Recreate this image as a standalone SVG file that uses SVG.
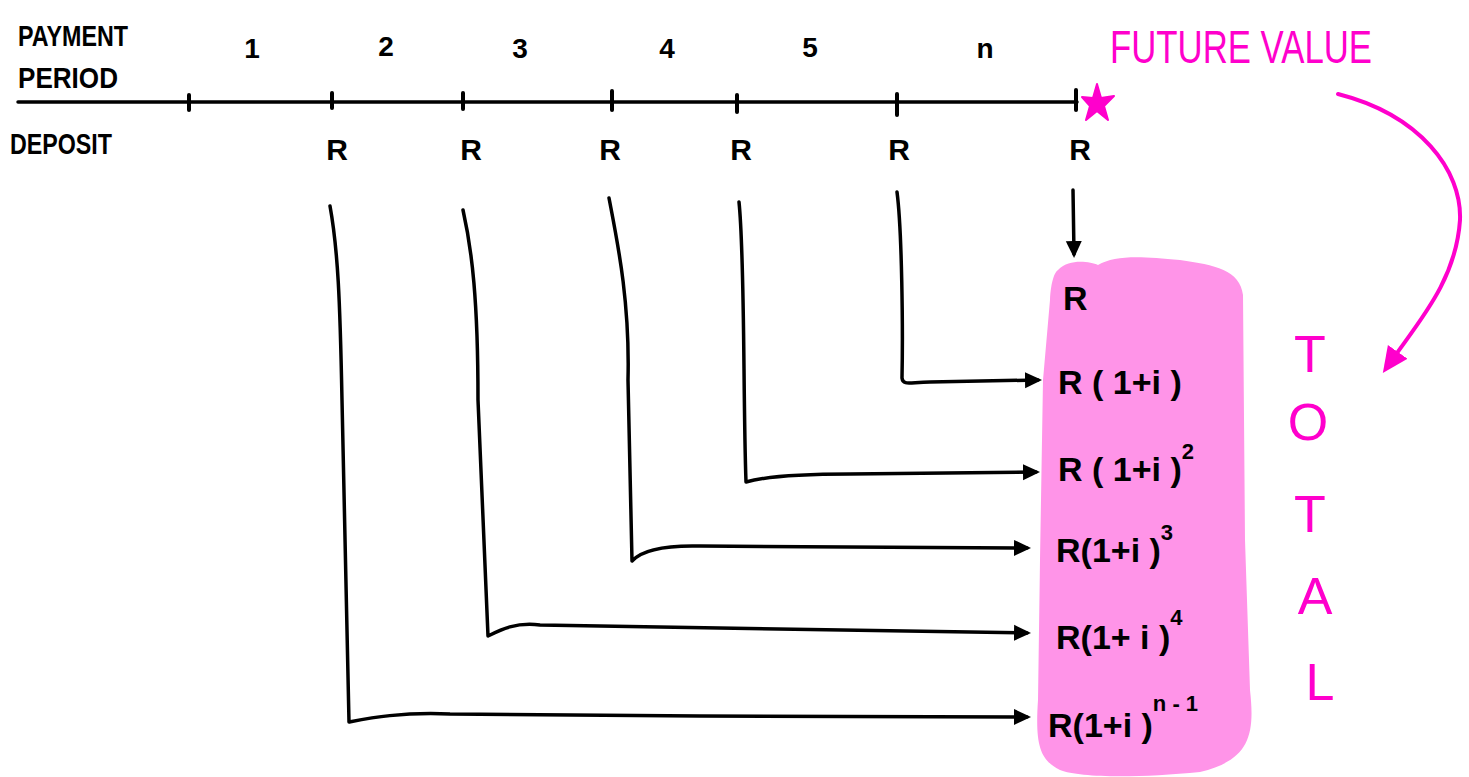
<svg xmlns="http://www.w3.org/2000/svg" width="1469" height="777" viewBox="0 0 1469 777">
<style>
.t{font-family:"Liberation Sans",Arial,sans-serif;fill:#000;font-weight:bold;}
.p{font-family:"Liberation Sans",Arial,sans-serif;fill:#ff00cc;}
.ln{fill:none;stroke:#000;stroke-width:3.5;stroke-linecap:round;stroke-linejoin:round;}
.tick{stroke:#000;stroke-width:4;stroke-linecap:round;}
.f{font-family:"Liberation Sans",Arial,sans-serif;font-size:34px;fill:#000;font-weight:bold;}
.sup{font-size:22px;}
</style>
<defs>
<marker id="ah" markerWidth="18" markerHeight="18" refX="13" refY="9" orient="auto" markerUnits="userSpaceOnUse">
<path d="M0,1 L17,9 L0,17 Z" fill="#000"/>
</marker>
<marker id="ahp" markerWidth="30" markerHeight="30" refX="10" refY="15" orient="auto" markerUnits="userSpaceOnUse">
<path d="M0,3 L26,15 L0,27 Z" fill="#ff00cc"/>
</marker>
</defs>
<rect width="1469" height="777" fill="#fff"/>

<g id="timeline">
<line x1="18" y1="102" x2="1077" y2="102" stroke="#000" stroke-width="3.5" stroke-linecap="round"/>
<line class="tick" x1="189" y1="95" x2="189" y2="110"/>
<line class="tick" x1="332" y1="93" x2="332" y2="108"/>
<line class="tick" x1="463" y1="93" x2="463" y2="109"/>
<line class="tick" x1="612" y1="91" x2="612" y2="110"/>
<line class="tick" x1="737" y1="95" x2="737" y2="112"/>
<line class="tick" x1="897" y1="94" x2="897" y2="115"/>
<line class="tick" x1="1076" y1="90" x2="1076" y2="110"/>
</g>

<g id="labels">
<text class="t" x="18" y="46" font-size="30" textLength="110" lengthAdjust="spacingAndGlyphs">PAYMENT</text>
<text class="t" x="18" y="88" font-size="30" textLength="100" lengthAdjust="spacingAndGlyphs">PERIOD</text>
<text class="t" x="10" y="154" font-size="30" textLength="102" lengthAdjust="spacingAndGlyphs">DEPOSIT</text>
</g>

<g id="periods" font-size="28">
<text class="t" x="252" y="58" text-anchor="middle">1</text>
<text class="t" x="386" y="56" text-anchor="middle">2</text>
<text class="t" x="520" y="58" text-anchor="middle">3</text>
<text class="t" x="667" y="58" text-anchor="middle">4</text>
<text class="t" x="810" y="57" text-anchor="middle">5</text>
<text class="t" x="985" y="58" text-anchor="middle">n</text>
</g>

<g id="deposits" font-size="30">
<text class="t" x="337" y="160" text-anchor="middle">R</text>
<text class="t" x="471" y="160" text-anchor="middle">R</text>
<text class="t" x="610" y="160" text-anchor="middle">R</text>
<text class="t" x="741" y="160" text-anchor="middle">R</text>
<text class="t" x="899" y="160" text-anchor="middle">R</text>
<text class="t" x="1080" y="160" text-anchor="middle">R</text>
</g>

<g id="star">
<path d="M1097,84 L1101,98 L1114,96 L1104,106 L1108,120 L1097,111 L1086,120 L1090,106 L1082,97 L1093,98 Z" fill="#ff00cc" stroke="#ff00cc" stroke-width="2" stroke-linejoin="round"/>
</g>

<g id="future-value">
<text class="p" x="1110" y="63" font-size="46" textLength="262" lengthAdjust="spacingAndGlyphs">FUTURE VALUE</text>
</g>

<g id="total-box">
<path d="M1058,270 C1070,258 1090,262 1098,265 C1115,255 1140,256 1180,260 C1215,265 1240,270 1243,295 L1245,540 L1250,690 C1255,735 1250,760 1200,772 C1140,778 1080,778 1060,770 C1040,760 1035,745 1038,700 L1040,560 L1043,380 L1050,300 C1051,280 1055,272 1058,270 Z" fill="#ff94e8"/>
<text class="f" x="1063" y="310">R</text>
<text class="f" x="1058" y="394">R ( 1+i )</text>
<text class="f" x="1058" y="481">R ( 1+i )<tspan class="sup" dy="-22">2</tspan></text>
<text class="f" x="1056" y="562">R(1+i )<tspan class="sup" dy="-22">3</tspan></text>
<text class="f" x="1056" y="649">R(1+ i )<tspan class="sup" dy="-24">4</tspan></text>
<text class="f" x="1048" y="737">R(1+i )<tspan class="sup" dy="-26">n - 1</tspan></text>
</g>

<g id="total-label" font-size="52">
<text class="p" x="1310" y="372" text-anchor="middle">T</text>
<text class="p" x="1308" y="440" text-anchor="middle">O</text>
<text class="p" x="1310" y="532" text-anchor="middle">T</text>
<text class="p" x="1315" y="614" text-anchor="middle">A</text>
<text class="p" x="1320" y="700" text-anchor="middle">L</text>
</g>

<g id="connectors">
<path class="ln" d="M1073,190 L1074,254" marker-end="url(#ah)"/>
<path class="ln" d="M897,192 C902,230 903,330 902,378 C903,386 910,382 930,382 L1038,380" marker-end="url(#ah)"/>
<path class="ln" d="M739,202 C745,260 743,400 746,482 C760,478 790,474 850,474 L1036,472" marker-end="url(#ah)"/>
<path class="ln" d="M609,198 C617,240 630,300 628,380 L632,561 C640,552 660,545 700,546 L1027,548" marker-end="url(#ah)"/>
<path class="ln" d="M463,210 C472,250 478,300 478,400 L488,636 C500,630 515,622 540,625 L1027,633" marker-end="url(#ah)"/>
<path class="ln" d="M330,206 C338,250 340,300 342,400 L349,722 C370,718 400,712 450,714 L700,716 L1027,717" marker-end="url(#ah)"/>
<path d="M1338,94 C1420,115 1462,170 1460,220 C1456,280 1420,320 1392,360" fill="none" stroke="#ff00cc" stroke-width="4" stroke-linecap="round" marker-end="url(#ahp)"/>
</g>
</svg>
